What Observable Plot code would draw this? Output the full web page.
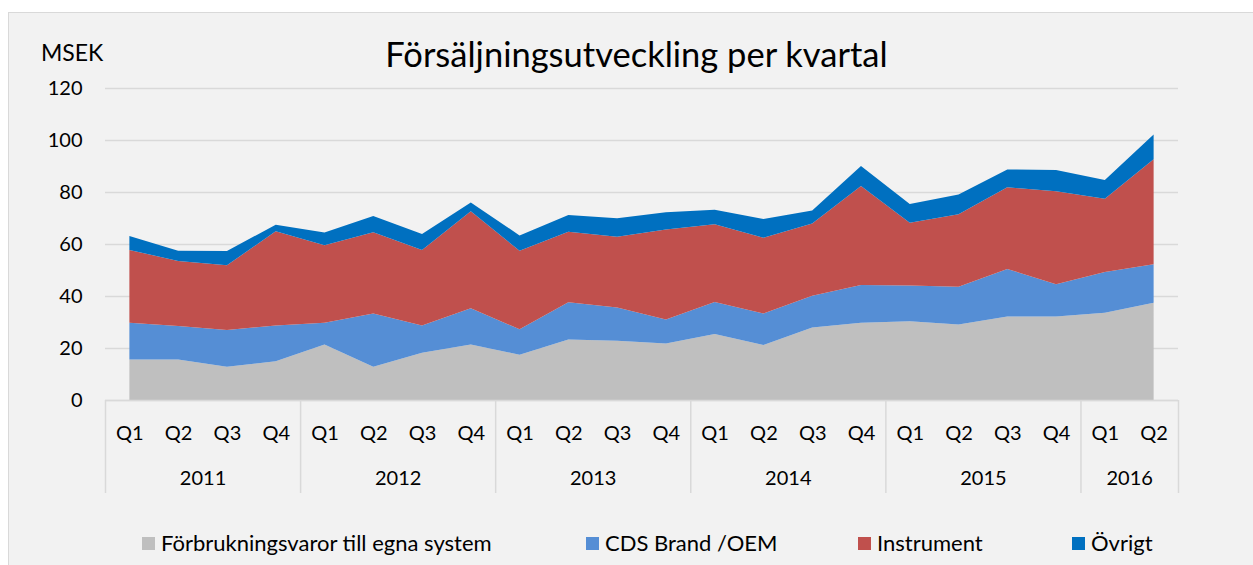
<!DOCTYPE html>
<html>
<head>
<meta charset="utf-8">
<script src="https://cdn.jsdelivr.net/npm/d3@7"></script>
<script src="https://cdn.jsdelivr.net/npm/@observablehq/plot@0.6"></script>
<style>
  html, body { margin: 0; padding: 0; background: #ffffff; }
  #wrap { position: relative; width: 1253px; height: 565px; overflow: hidden; font-family: Lato, "Open Sans", sans-serif; color: #000; }
  #panel { position: absolute; left: 8px; top: 12px; width: 1250px; height: 570px; background: #f2f2f2; border: 1px solid #d9d9d9; box-sizing: border-box; }
  #chart { position: absolute; left: 0; top: 0; }
  #title { position: absolute; left: 0; width: 1273px; top: 33px; text-align: center; font-size: 34.5px; white-space: nowrap; }
  #unit { position: absolute; left: 41px; top: 38px; font-size: 23px; }
  .leg { position: absolute; top: 529px; font-size: 22px; white-space: nowrap; display: flex; align-items: center; }
  .sw { display: inline-block; width: 13px; height: 13px; margin-right: 6px; position: relative; top: 1px; }
</style>
</head>
<body>
<div id="wrap">
  <div id="panel"></div>
  <div id="chart"></div>
  <div id="title">Försäljningsutveckling per kvartal</div>
  <div id="unit">MSEK</div>
  <div id="legend"></div>
</div>
<script>
// ---- Data ----
const years = ["2011", "2012", "2013", "2014", "2015", "2016"];
const quartersPerYear = [4, 4, 4, 4, 4, 2];
const quarters = ["Q1","Q2","Q3","Q4","Q1","Q2","Q3","Q4","Q1","Q2","Q3","Q4","Q1","Q2","Q3","Q4","Q1","Q2","Q3","Q4","Q1","Q2"];
const seriesNames = ["Förbrukningsvaror till egna system", "CDS Brand /OEM", "Instrument", "Övrigt"];
const seriesColors = ["#bfbfbf", "#558ed5", "#c0504d", "#0070c0"];
const forbrukning = [15.6, 15.6, 12.8, 14.9, 21.3, 12.8, 18.2, 21.3, 17.4, 23.3, 22.8, 21.7, 25.4, 21.2, 27.9, 29.7, 30.3, 29.0, 32.1, 32.1, 33.6, 37.4];
const cdsBrand    = [14.1, 12.9, 14.1, 13.8, 8.4, 20.5, 10.5, 14.0, 9.8, 14.3, 12.8, 9.3, 12.3, 12.1, 12.2, 14.5, 13.7, 14.6, 18.3, 12.4, 15.6, 14.8];
const instrument  = [28.0, 25.0, 24.9, 36.2, 29.8, 31.2, 29.0, 37.3, 30.2, 27.1, 27.2, 34.6, 29.9, 29.1, 27.8, 38.1, 24.2, 27.8, 31.4, 35.8, 28.2, 40.4];
const ovrigt      = [5.4, 3.9, 5.5, 2.5, 4.9, 6.3, 6.1, 3.4, 5.9, 6.5, 7.1, 6.6, 5.6, 7.2, 5.0, 7.7, 7.2, 7.6, 6.9, 8.2, 7.2, 9.5];
const yTicks = [0, 20, 40, 60, 80, 100, 120];

// ---- Build table ----
const seriesValues = [forbrukning, cdsBrand, instrument, ovrigt];
const rows = [];
seriesNames.forEach((s, k) => {
  seriesValues[k].forEach((v, i) => rows.push({i, series: s, value: v}));
});
const idx = quarters.map((_, i) => i);
// year boundaries and centers (in quarter-index units)
const bounds = [-0.5];
const centers = [];
let acc = 0;
quartersPerYear.forEach(n => { centers.push(acc + (n - 1) / 2); acc += n; bounds.push(acc - 0.5); });

const font = "Lato, 'Open Sans', sans-serif";
const chart = Plot.plot({
  width: 1253,
  height: 505,
  marginTop: 88,
  marginBottom: 105,
  marginLeft: 105,
  marginRight: 75,
  style: {background: "transparent", fontFamily: font, color: "#000", overflow: "visible"},
  x: {type: "linear", domain: [-0.5, quarters.length - 0.5], axis: null},
  y: {domain: [0, 120], axis: null},
  color: {domain: seriesNames, range: seriesColors},
  marks: [
    Plot.gridY(yTicks, {stroke: "#d9d9d9", strokeOpacity: 1, strokeWidth: 1.5}),
    Plot.areaY(rows, {x: "i", y: "value", fill: "series", order: null}),
    Plot.ruleY([0], {stroke: "#d9d9d9", strokeWidth: 1.5}),
    Plot.axisY(yTicks, {tickSize: 0, tickPadding: 23, fontSize: 20, label: null, fill: "#000"}),
    Plot.axisX(bounds, {tickSize: 93, tickFormat: () => "", stroke: "#d9d9d9", strokeWidth: 1.5, strokeOpacity: 1, label: null}),
    Plot.axisX(idx, {tickSize: 0, tickPadding: 25, tickFormat: d => quarters[d], fontSize: 20, label: null, fill: "#000"}),
    Plot.axisX(centers, {tickSize: 0, tickPadding: 70, tickFormat: (d, k) => years[k], fontSize: 20, label: null, fill: "#000"})
  ]
});
document.getElementById("chart").appendChild(chart);

// ---- Legend ----
const legendX = [142, 586, 858, 1072];
const legend = document.getElementById("legend");
seriesNames.forEach((s, k) => {
  const item = document.createElement("div");
  item.className = "leg";
  item.style.left = legendX[k] + "px";
  item.innerHTML = `<span class="sw" style="background:${seriesColors[k]}"></span><span>${s}</span>`;
  legend.appendChild(item);
});
</script>
</body>
</html>
